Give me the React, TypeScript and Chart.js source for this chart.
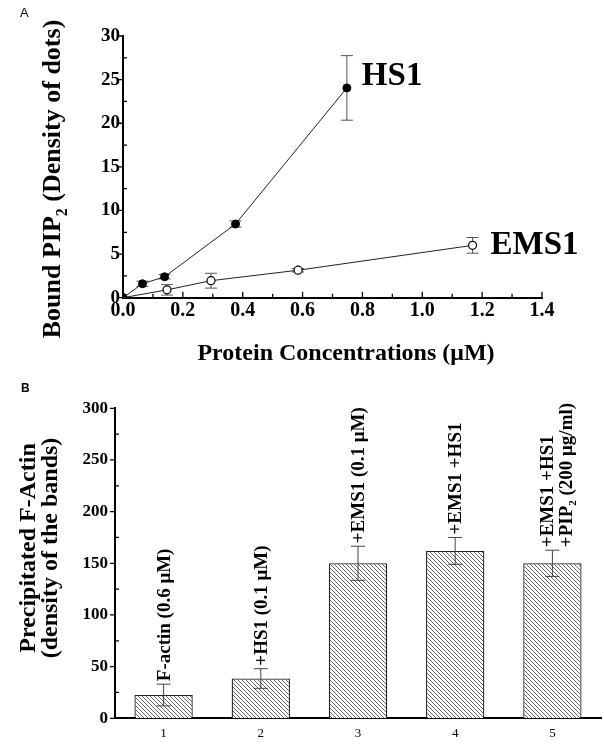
import React, { useEffect, useRef } from 'react';
import { Chart, registerables } from 'chart.js';
Chart.register(...registerables);

// ---------- Panel A data ----------
const hs1X = [0, 0.065, 0.139, 0.376, 0.748];
const hs1Y = [0, 1.6, 2.4, 8.45, 24.05];
const hs1Err = [0, 0.3, 0.25, 0.35, 3.7];
const ems1X = [0, 0.147, 0.294, 0.585, 1.168];
const ems1Y = [0, 0.9, 1.95, 3.15, 6.0];
const ems1Err = [0, 0.6, 0.85, 0.2, 0.9];
const xTicksA = [0, 0.2, 0.4, 0.6, 0.8, 1.0, 1.2, 1.4];
const yTicksA = [0, 5, 10, 15, 20, 25, 30];

// ---------- Panel B data ----------
const barCategories = ['1', '2', '3', '4', '5'];
const barValues = [22.5, 38.5, 150, 162, 150];
const barErrors = [10.5, 9.5, 16.5, 13, 12.7];
const barLabels: string[][] = [
  ['F-actin (0.6 \u03bcM)'],
  ['+HS1 (0.1 \u03bcM)'],
  ['+EMS1 (0.1 \u03bcM)'],
  ['+EMS1 +HS1'],
  ['+EMS1 +HS1', '+PIP_{2} (200 \u03bcg/ml)'],
];
const yTicksB = [0, 50, 100, 150, 200, 250, 300];

const SERIF = '"Liberation Serif", "Times New Roman", serif';
const SANS = '"Liberation Sans", Arial, sans-serif';

type Seg = { t: string; sub: boolean };
function parseRich(s: string): Seg[] {
  const out: Seg[] = [];
  const re = /_\{([^}]*)\}/g;
  let last = 0;
  let m: RegExpExecArray | null;
  while ((m = re.exec(s))) {
    if (m.index > last) out.push({ t: s.slice(last, m.index), sub: false });
    out.push({ t: m[1], sub: true });
    last = m.index + m[0].length;
  }
  if (last < s.length) out.push({ t: s.slice(last), sub: false });
  return out;
}

function drawRich(
  ctx: CanvasRenderingContext2D,
  text: string,
  x: number,
  y: number,
  size: number,
  weight: string,
  align: 'left' | 'center',
  baseline: CanvasTextBaseline,
  family = SERIF
) {
  const segs = parseRich(text);
  const fontFor = (sub: boolean) => `${weight} ${sub ? Math.round(size * 0.6) : size}px ${family}`;
  let total = 0;
  for (const s of segs) {
    ctx.font = fontFor(s.sub);
    total += ctx.measureText(s.t).width;
  }
  let cx = align === 'center' ? x - total / 2 : x;
  ctx.textAlign = 'left';
  ctx.textBaseline = baseline;
  for (const s of segs) {
    ctx.font = fontFor(s.sub);
    ctx.fillText(s.t, cx, y + (s.sub ? size * 0.28 : 0));
    cx += ctx.measureText(s.t).width;
  }
}

function makeTickPlugin(cfg: {
  xMajor: number; xMinor: number; yMajorOut: number; yMinorIn: number;
}) {
  return {
    id: 'customTicks',
    afterDraw(chart: any) {
      const ctx = chart.ctx as CanvasRenderingContext2D;
      const { left, bottom } = chart.chartArea;
      ctx.save();
      ctx.strokeStyle = '#000';
      ctx.lineWidth = 1.3;
      const ys = chart.scales.y;
      const yt = ys.ticks.map((t: any) => t.value);
      ctx.beginPath();
      for (let i = 0; i < yt.length; i++) {
        const py = ys.getPixelForValue(yt[i]);
        if (cfg.yMajorOut) { ctx.moveTo(left - cfg.yMajorOut, py); ctx.lineTo(left, py); }
        if (i < yt.length - 1 && cfg.yMinorIn) {
          const pm = ys.getPixelForValue((yt[i] + yt[i + 1]) / 2);
          ctx.moveTo(left, pm); ctx.lineTo(left + cfg.yMinorIn, pm);
        }
      }
      if (cfg.xMajor) {
        const xs = chart.scales.x;
        const xt = xs.ticks.map((t: any) => t.value);
        for (let i = 0; i < xt.length; i++) {
          const px = xs.getPixelForValue(xt[i]);
          ctx.moveTo(px, bottom); ctx.lineTo(px, bottom - cfg.xMajor);
          if (i < xt.length - 1) {
            const pm = xs.getPixelForValue((xt[i] + xt[i + 1]) / 2);
            ctx.moveTo(pm, bottom); ctx.lineTo(pm, bottom - cfg.xMinor);
          }
        }
      }
      ctx.stroke();
      ctx.restore();
    },
  };
}

const errorBarsA = {
  id: 'errorBarsA',
  beforeDatasetsDraw(chart: any) {
    const ctx = chart.ctx as CanvasRenderingContext2D;
    const xs = chart.scales.x;
    const ys = chart.scales.y;
    ctx.save();
    ctx.strokeStyle = '#555';
    ctx.lineWidth = 1;
    const draw = (X: number[], Y: number[], E: number[]) => {
      for (let i = 0; i < X.length; i++) {
        if (!E[i]) continue;
        const px = xs.getPixelForValue(X[i]);
        const top = ys.getPixelForValue(Y[i] + E[i]);
        const bot = ys.getPixelForValue(Y[i] - E[i]);
        ctx.beginPath();
        ctx.moveTo(px, top); ctx.lineTo(px, bot);
        ctx.moveTo(px - 6, top); ctx.lineTo(px + 6, top);
        ctx.moveTo(px - 6, bot); ctx.lineTo(px + 6, bot);
        ctx.stroke();
      }
    };
    draw(hs1X, hs1Y, hs1Err);
    draw(ems1X, ems1Y, ems1Err);
    ctx.restore();
  },
};

const textA = {
  id: 'textA',
  afterDraw(chart: any) {
    const ctx = chart.ctx as CanvasRenderingContext2D;
    const xs = chart.scales.x;
    const ys = chart.scales.y;
    ctx.save();
    ctx.fillStyle = '#000';
    // panel label
    ctx.font = `normal 13px ${SANS}`;
    ctx.textAlign = 'left';
    ctx.textBaseline = 'alphabetic';
    ctx.fillText('A', 20, 17);
    // y title
    ctx.save();
    ctx.translate(60, 179);
    ctx.rotate(-Math.PI / 2);
    drawRich(ctx, 'Bound PIP_{2} (Density of dots)', 0, 0, 26, 'bold', 'center', 'alphabetic');
    ctx.restore();
    // x title
    drawRich(ctx, 'Protein Concentrations (\u03bcM)', 346, 360, 24, 'bold', 'center', 'alphabetic');
    // series labels
    const n = hs1X.length - 1;
    const hx = xs.getPixelForValue(hs1X[n]);
    const hy = ys.getPixelForValue(hs1Y[n]);
    ctx.font = `bold 33px ${SERIF}`;
    ctx.textBaseline = 'alphabetic';
    ctx.fillText('HS1', hx + 15, hy - 3);
    const m = ems1X.length - 1;
    const ex = xs.getPixelForValue(ems1X[m]);
    const ey = ys.getPixelForValue(ems1Y[m]);
    ctx.fillText('EMS1', ex + 18, ey + 9);
    ctx.restore();
  },
};

const errorBarsB = {
  id: 'errorBarsB',
  afterDatasetsDraw(chart: any) {
    const ctx = chart.ctx as CanvasRenderingContext2D;
    const ys = chart.scales.y;
    const meta = chart.getDatasetMeta(0);
    ctx.save();
    ctx.strokeStyle = '#444';
    ctx.lineWidth = 1;
    meta.data.forEach((el: any, i: number) => {
      const top = ys.getPixelForValue(barValues[i] + barErrors[i]);
      const bot = ys.getPixelForValue(barValues[i] - barErrors[i]);
      ctx.beginPath();
      ctx.moveTo(el.x, top); ctx.lineTo(el.x, bot);
      ctx.moveTo(el.x - 7, top); ctx.lineTo(el.x + 7, top);
      ctx.moveTo(el.x - 7, bot); ctx.lineTo(el.x + 7, bot);
      ctx.stroke();
      // rotated labels
      const lines = barLabels[i];
      const offs = lines.length === 1 ? [1] : [-4, 15];
      lines.forEach((ln, j) => {
        ctx.save();
        ctx.translate(el.x + offs[j], top - 3);
        ctx.rotate(-Math.PI / 2);
        ctx.fillStyle = '#000';
        drawRich(ctx, ln, 0, 0, 19, 'bold', 'left', 'middle');
        ctx.restore();
      });
    });
    ctx.restore();
  },
};

const textB = {
  id: 'textB',
  afterDraw(chart: any) {
    const ctx = chart.ctx as CanvasRenderingContext2D;
    ctx.save();
    ctx.fillStyle = '#000';
    ctx.font = `bold 12px ${SANS}`;
    ctx.textAlign = 'left';
    ctx.textBaseline = 'alphabetic';
    ctx.fillText('B', 21, 22);
    ctx.save();
    ctx.translate(35, 178);
    ctx.rotate(-Math.PI / 2);
    drawRich(ctx, 'Precipitated F-Actin', 0, 0, 24, 'bold', 'center', 'alphabetic');
    ctx.restore();
    ctx.save();
    ctx.translate(57, 178);
    ctx.rotate(-Math.PI / 2);
    drawRich(ctx, '(density of the bands)', 0, 0, 24, 'bold', 'center', 'alphabetic');
    ctx.restore();
    ctx.restore();
  },
};

function makeHatch(): CanvasPattern | string {
  const c = document.createElement('canvas');
  const s = 4;
  c.width = s; c.height = s;
  const g = c.getContext('2d');
  if (!g) return '#ddd';
  g.fillStyle = '#fff';
  g.fillRect(0, 0, s, s);
  g.strokeStyle = '#666';
  g.lineWidth = 1;
  g.beginPath();
  g.moveTo(-1, -1); g.lineTo(s + 1, s + 1);
  g.moveTo(-1, s - 1); g.lineTo(1, s + 1);
  g.moveTo(s - 1, -1); g.lineTo(s + 1, 1);
  g.stroke();
  const p = g.createPattern(c, 'repeat');
  return p || '#ddd';
}

export default function App() {
  const refA = useRef<HTMLCanvasElement>(null);
  const refB = useRef<HTMLCanvasElement>(null);

  useEffect(() => {
    if (!refA.current || !refB.current) return;
    const tickFontA = (size: number) => ({ family: SERIF, size, weight: 'bold' as const });
    const chartA = new Chart(refA.current, {
      type: 'scatter',
      data: {
        datasets: [
          {
            label: 'HS1',
            data: hs1X.map((x, i) => ({ x, y: hs1Y[i] })),
            showLine: true,
            borderColor: '#222',
            borderWidth: 1,
            pointRadius: 4,
            pointBackgroundColor: '#000',
            pointBorderColor: '#000',
            pointBorderWidth: 1,
          },
          {
            label: 'EMS1',
            data: ems1X.map((x, i) => ({ x, y: ems1Y[i] })),
            showLine: true,
            borderColor: '#222',
            borderWidth: 1,
            pointRadius: 4,
            pointBackgroundColor: '#fff',
            pointBorderColor: '#000',
            pointBorderWidth: 1.2,
          },
        ],
      },
      options: {
        animation: false,
        responsive: false,
        layout: { padding: { left: 0, top: 36, right: 62, bottom: 0 } },
        plugins: { legend: { display: false }, tooltip: { enabled: false } },
        scales: {
          x: {
            type: 'linear',
            min: 0,
            max: 1.4,
            afterBuildTicks: (s: any) => { s.ticks = xTicksA.map((v) => ({ value: v })); },
            afterFit: (s: any) => { s.height = 370 - 297.7; },
            grid: { display: false, drawTicks: false },
            border: { display: true, color: '#000', width: 2 },
            ticks: {
              font: tickFontA(20),
              color: '#000',
              padding: 1,
              maxRotation: 0,
              callback: (v: any) => Number(v).toFixed(1),
            },
          },
          y: {
            type: 'linear',
            min: 0,
            max: 30,
            afterBuildTicks: (s: any) => { s.ticks = yTicksA.map((v) => ({ value: v })); },
            afterFit: (s: any) => { s.width = 123; },
            grid: { display: false, drawTicks: false },
            border: { display: true, color: '#000', width: 2 },
            ticks: { font: tickFontA(19), color: '#000', padding: 3 },
          },
        },
      },
      plugins: [errorBarsA, makeTickPlugin({ xMajor: 6, xMinor: 4, yMajorOut: 5, yMinorIn: 4 }), textA],
    });

    const chartB = new Chart(refB.current, {
      type: 'bar',
      data: {
        labels: barCategories,
        datasets: [
          {
            data: barValues,
            backgroundColor: makeHatch() as any,
            borderColor: '#222',
            borderWidth: 1.3,
            barPercentage: 0.6,
            categoryPercentage: 1,
          },
        ],
      },
      options: {
        animation: false,
        responsive: false,
        layout: { padding: { left: 0, top: 38.3, right: 3, bottom: 0 } },
        plugins: { legend: { display: false }, tooltip: { enabled: false } },
        scales: {
          x: {
            afterFit: (s: any) => { s.height = 375 - 348.3; },
            grid: { display: false, drawTicks: false },
            border: { display: true, color: '#000', width: 2 },
            ticks: { font: { family: SERIF, size: 13 }, color: '#000', padding: 7 },
          },
          y: {
            type: 'linear',
            min: 0,
            max: 300,
            afterBuildTicks: (s: any) => { s.ticks = yTicksB.map((v) => ({ value: v })); },
            afterFit: (s: any) => { s.width = 115; },
            grid: { display: false, drawTicks: false },
            border: { display: true, color: '#000', width: 2 },
            ticks: { font: { family: SERIF, size: 17, weight: 'bold' }, color: '#000', padding: 7 },
          },
        },
      },
      plugins: [errorBarsB, makeTickPlugin({ xMajor: 0, xMinor: 0, yMajorOut: 5, yMinorIn: 4 }), textB],
    });

    return () => {
      chartA.destroy();
      chartB.destroy();
    };
  }, []);

  return (
    <div style={{ position: 'absolute', left: 0, top: 0, width: 604, height: 745, background: '#fff' }}>
      <canvas ref={refA} width={604} height={370} style={{ position: 'absolute', left: 0, top: 0, width: 604, height: 370 }} />
      <canvas ref={refB} width={604} height={375} style={{ position: 'absolute', left: 0, top: 370, width: 604, height: 375 }} />
    </div>
  );
}
